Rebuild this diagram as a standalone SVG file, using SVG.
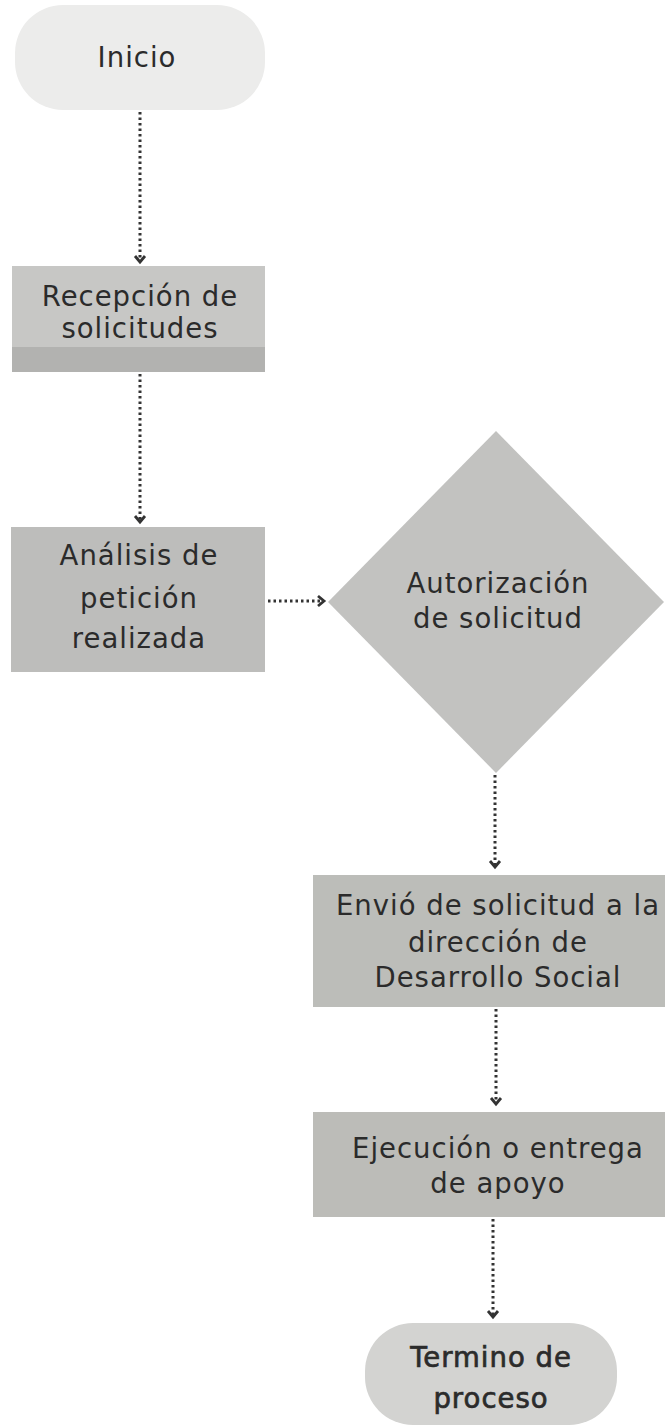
<svg xmlns="http://www.w3.org/2000/svg" width="665" height="1427" viewBox="0 0 665 1427">
<style>
.t{font-family:"DejaVu Sans","Liberation Sans",sans-serif;font-size:27.5px;letter-spacing:1px;fill:#2b2b2b;text-anchor:middle;dominant-baseline:central}
.b{stroke:#2b2b2b;stroke-width:0.7}
.c{fill:none;stroke:#333;stroke-width:3;stroke-dasharray:2.5 3}
</style>
<defs>
<marker id="ah" markerWidth="14" markerHeight="14" refX="9" refY="7" orient="auto" markerUnits="userSpaceOnUse">
<path d="M3,2 L9,7 L3,12" fill="none" stroke="#333" stroke-width="2.8"/>
</marker>
</defs>
<rect width="665" height="1427" fill="#fff"/>
<g id="connectors">
<line class="c" x1="140" y1="112" x2="140" y2="262" marker-end="url(#ah)"/>
<line class="c" x1="140" y1="374" x2="140" y2="522" marker-end="url(#ah)"/>
<line class="c" x1="268" y1="601" x2="324" y2="601" marker-end="url(#ah)"/>
<line class="c" x1="495" y1="775" x2="495" y2="867" marker-end="url(#ah)"/>
<line class="c" x1="496" y1="1009" x2="496" y2="1104" marker-end="url(#ah)"/>
<line class="c" x1="493" y1="1219" x2="493" y2="1317" marker-end="url(#ah)"/>
</g>
<g id="inicio">
<rect x="15" y="5" width="250" height="105" rx="48" fill="#ececeb"/>
<text class="t" x="137" y="57">Inicio</text>
</g>
<g id="recepcion">
<rect x="12" y="266" width="253" height="106" fill="#c7c7c5"/>
<rect x="12" y="347" width="253" height="25" fill="#b2b2b0"/>
<text class="t" x="140" y="296">Recepción de</text>
<text class="t" x="140" y="328">solicitudes</text>
</g>
<g id="analisis">
<rect x="11" y="527" width="254" height="145" fill="#bdbdbb"/>
<text class="t" x="139" y="555">Análisis de</text>
<text class="t" x="139" y="598">petición</text>
<text class="t" x="139" y="638">realizada</text>
</g>
<g id="autorizacion">
<polygon points="496,431 664,602 496,773 328,602" fill="#c2c2c0"/>
<text class="t" x="498" y="583">Autorización</text>
<text class="t" x="498" y="618">de solicitud</text>
</g>
<g id="envio">
<rect x="313" y="875" width="352" height="132" fill="#bcbdb9"/>
<text class="t" x="498" y="905">Envió de solicitud a la</text>
<text class="t" x="498" y="942">dirección de</text>
<text class="t" x="498" y="977">Desarrollo Social</text>
</g>
<g id="ejecucion">
<rect x="313" y="1112" width="352" height="105" fill="#bcbcb8"/>
<text class="t" x="498" y="1148">Ejecución o entrega</text>
<text class="t" x="498" y="1183">de apoyo</text>
</g>
<g id="termino">
<rect x="365" y="1323" width="252" height="102" rx="48" fill="#d3d3d1"/>
<text class="t b" x="491" y="1357">Termino de</text>
<text class="t b" x="491" y="1398">proceso</text>
</g>
</svg>
